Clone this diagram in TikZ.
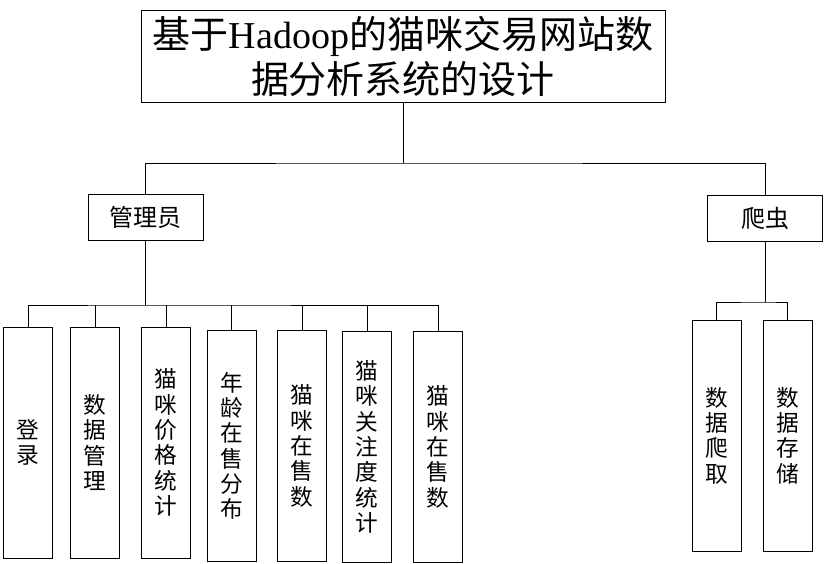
\documentclass[tikz,border=0pt]{standalone}
\usepackage{fontspec}
\setmainfont{Noto Sans CJK SC}
\newfontfamily\latinfont{Liberation Serif}

\begin{document}
\begin{tikzpicture}[x=0.75pt,y=-0.75pt,line width=0.7pt,
		box/.style={draw,inner sep=0pt,align=center},
		leaf/.style={box,minimum width=36.75pt,minimum height=173.25pt,font=\fontsize{17}{19}\selectfont},
		mid/.style={box,minimum width=86.25pt,minimum height=34.5pt,font=\fontsize{18}{20}\selectfont}]
			\useasboundingbox (0,0) rectangle (833,564);

			\node[box,minimum width=393pt,minimum height=69pt,font=\fontsize{28.5}{33.75}\selectfont] (title) at (403,56) {基于{\latinfont Hadoop}的猫咪交易网站数\\据分析系统的设计};

			\node[mid] (admin) at (145.5,217) {管理员};
			\node[mid] (spider) at (765,218) {爬虫};

			\coordinate (bus) at (403,163);
			\draw (title.south) -- (bus);
			\draw (admin.north) |- (bus) -| (spider.north);

			\foreach \n/\x/\y/\t in {1/28/442.5/{登\\录}, 2/95/442.5/{数\\据\\管\\理}, 3/166/442.5/{猫\\咪\\价\\格\\统\\计},
					4/231.5/446/{年\\龄\\在\\售\\分\\布}, 5/302/446/{猫\\咪\\在\\售\\数}, 6/367/447/{猫\\咪\\关\\注\\度\\统\\计}, 7/438/447/{猫\\咪\\在\\售\\数}}
				\node[leaf] (c\n) at (\x,\y) {\t};

			\coordinate (abus) at (145.5,305);
			\draw (admin.south) -- (abus);
			\draw (c1.north) |- (abus) -| (c7.north);
			\foreach \n in {2,...,6}
				\draw (c\n.north) -- (c\n.north |- abus);

			\node[leaf] (d1) at (716.5,435.5) {数\\据\\爬\\取};
			\node[leaf] (d2) at (787.5,435.5) {数\\据\\存\\储};

			\coordinate (sbus) at (765,302);
			\draw (spider.south) -- (sbus);
			\draw (d1.north) |- (sbus) -| (d2.north);
		\end{tikzpicture}
\end{document}
